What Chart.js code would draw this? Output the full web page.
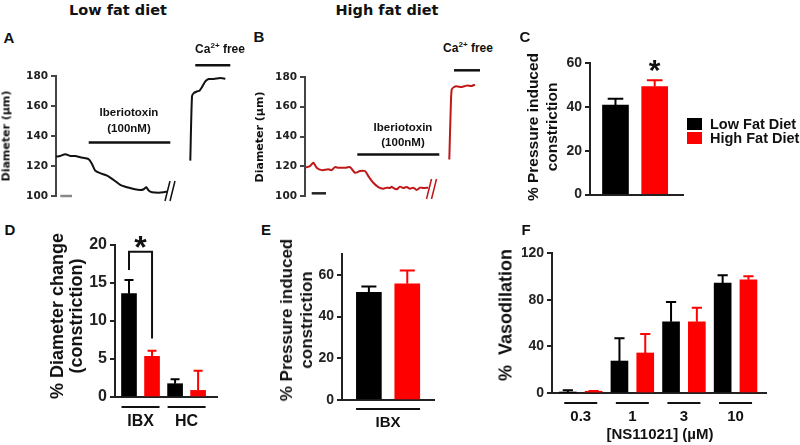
<!DOCTYPE html>
<html>
<head>
<meta charset="utf-8">
<script src="https://cdn.jsdelivr.net/npm/chart.js@4.4.1/dist/chart.umd.min.js"></script>
<style>
  body { margin: 0; background: #fff; }
  #fig { position: relative; width: 800px; height: 445px; overflow: hidden; font-family: "Liberation Sans", Arial, sans-serif; font-weight: bold; color: #111; }
  #fig canvas { position: absolute; }
  .t { position: absolute; white-space: nowrap; text-align: center; transform: translate(-50%, -50%); }
  .r { transform: translate(-50%, -50%) rotate(-90deg); }
  .dv { font-family: "DejaVu Sans", sans-serif; }
  .box { position: absolute; width: 15px; height: 12px; }
  .leg { position: absolute; white-space: nowrap; font-size: 14.5px; transform: translateY(-50%); }
</style>
</head>
<body>
<div id="fig">
  <canvas id="panelA"></canvas>
  <canvas id="panelB"></canvas>
  <canvas id="panelC"></canvas>
  <canvas id="panelD"></canvas>
  <canvas id="panelE"></canvas>
  <canvas id="panelF"></canvas>

  <div class="t dv" style="left:118px;top:10px;font-size:14.5px">Low fat diet</div>
  <div class="t dv" style="left:387px;top:10px;font-size:14.5px">High fat diet</div>

  <div class="t" style="left:9px;top:37px;font-size:15px">A</div>
  <div class="t" style="left:259px;top:36px;font-size:15px">B</div>
  <div class="t" style="left:525px;top:36px;font-size:15px">C</div>
  <div class="t" style="left:10px;top:229px;font-size:15px">D</div>
  <div class="t" style="left:266px;top:229px;font-size:15px">E</div>
  <div class="t" style="left:526px;top:229px;font-size:15px">F</div>

  <div class="t r dv" style="left:6px;top:136px;font-size:11px">Diameter (µm)</div>
  <div class="t r dv" style="left:258.5px;top:137px;font-size:11px">Diameter (µm)</div>
  <div class="t" style="left:129px;top:112px;font-size:11.5px">Iberiotoxin</div>
  <div class="t" style="left:129px;top:128px;font-size:11.5px">(100nM)</div>
  <div class="t" style="left:403px;top:127px;font-size:11.5px">Iberiotoxin</div>
  <div class="t" style="left:403px;top:142px;font-size:11.5px">(100nM)</div>
  <div class="t" style="left:220px;top:48px;font-size:12px">Ca<sup style="font-size:8px">2+</sup> free</div>
  <div class="t" style="left:468px;top:47px;font-size:12px">Ca<sup style="font-size:8px">2+</sup> free</div>

  <div class="t r" style="left:542px;top:127px;font-size:15.5px;line-height:19px">% Pressure induced<br>constriction</div>
  <div class="box" style="left:687px;top:118px;background:#000"></div>
  <div class="box" style="left:687px;top:132px;background:#ff0000"></div>
  <div class="leg" id="leg0" style="left:710px;top:124px"></div>
  <div class="leg" id="leg1" style="left:710px;top:138px"></div>

  <div class="t r" style="left:67px;top:316px;font-size:18px;line-height:19px">% Diameter change<br>(constriction)</div>
  <div class="t r" style="left:297px;top:320px;font-size:17px;line-height:20px">% Pressure induced<br>constriction</div>
  <div class="t r" style="left:506px;top:315px;font-size:18px">%&nbsp;&nbsp;Vasodilation</div>
  <div class="t" style="left:660px;top:433px;font-size:15px">[NS11021] (µM)</div>
</div>

<script>
// ---- data ----
const seriesNames = ['Low Fat Diet', 'High Fat Diet'];
const seriesColors = ['#000000', '#ff0000'];

// A / B: diameter traces (time in arbitrary units, diameter in µm)
const traceTicks = [100, 120, 140, 160, 180];
const lfdTrace1Time = [0, 4.3, 9.3, 14.3, 19.3, 24.3, 29.3, 32.7, 36, 39.3, 44.3, 51, 57.7, 64.3, 71, 77.7, 84.3, 87.7, 90.3, 92.7, 96, 102.7, 107.7, 111];
const lfdTrace1Diam = [126.3, 126.7, 127.9, 126.7, 126.7, 125.8, 125.2, 124.5, 121.4, 116.9, 115.2, 113.6, 110.7, 107.4, 105.8, 104.7, 104.0, 104.5, 105.8, 103.6, 102.5, 102.2, 102.5, 102.9];
const lfdTrace2Time = [134.3, 136, 137.7, 141, 143.7, 146, 149.3, 152.7, 157.7, 164.3, 169.3];
const lfdTrace2Diam = [123.6, 166.4, 168.6, 169.7, 170.4, 172.6, 176.4, 178.0, 178.0, 178.7, 178.2];
const hfdTrace1Time = [0, 5, 8.3, 11.7, 16.7, 23.3, 26.7, 30, 33.3, 40, 45, 50, 55, 60, 63.3, 68.3, 73.3, 78.3, 81.7, 85, 86.7, 88.3, 91.7, 95, 98.3, 101.7, 105, 108.3, 111.7, 115, 118.3, 123.3];
const hfdTrace1Diam = [119.0, 120.1, 122.3, 119.0, 117.4, 117.9, 117.4, 119.4, 119.0, 119.0, 119.4, 115.6, 116.8, 116.8, 113.4, 108.9, 106.0, 104.9, 105.6, 105.4, 106.3, 105.4, 104.5, 106.3, 105.4, 106.0, 104.9, 105.6, 104.0, 105.6, 105.4, 105.6];
const hfdTrace2Time = [144.3, 145.7, 146.7, 149, 151.7, 156.7, 161.7, 166.7, 170];
const hfdTrace2Diam = [124.6, 158.0, 171.5, 173.3, 173.7, 173.3, 174.2, 174.0, 174.9];
// application periods: [from, to] in trace time, drawn at a diameter level
const lfdScaleBar = {from: 4.3, to: 16, at: 100};
const lfdIbtxBar = {from: 32.7, to: 114.3, at: 135.7};
const lfdCaFreeBar = {from: 139.3, to: 174.3, at: 187.1};
const hfdScaleBar = {from: 6.7, to: 21, at: 101.8};
const hfdIbtxBar = {from: 52.3, to: 134.3, at: 127.9};
const hfdCaFreeBar = {from: 149, to: 175, at: 184.5};

// C: pressure induced constriction
const constrictionTicks = [0, 20, 40, 60];
const constrictionMean = [[40.8], [49.3]];
const constrictionSem = [[2.9], [2.8]];

// D: % diameter change
const diamGroups = ['IBX', 'HC'];
const diamTicks = [0, 5, 10, 15, 20];
const diamMean = [[13.6, 1.75], [5.35, 0.87]];
const diamSem = [[1.8, 0.6], [0.75, 2.6]];

// E: pressure induced constriction with IBX
const ibxGroups = ['IBX'];
const ibxTicks = [0, 20, 40, 60];
const ibxMean = [[51.6], [55.7]];
const ibxSem = [[2.8], [6.4]];

// F: vasodilation to NS11021
const nsDoses = ['0.3', '1', '3', '10'];
const nsTicks = [0, 40, 80, 120];
const nsMean = [[0.5, 27.4, 61.1, 94.3], [1.5, 34.3, 61.1, 97.1]];
const nsSem = [[1.8, 19.5, 16.9, 6.6], [0.3, 16.3, 12.0, 2.9]];

// ---- plugins ----
Chart.defaults.font.family = '"Liberation Sans", Arial, sans-serif';
Chart.defaults.font.weight = 'bold';
Chart.defaults.color = '#222';

const errorBars = {
  id: 'errorBars',
  afterDatasetsDraw(chart) {
    const {ctx, scales: {y}} = chart;
    chart.data.datasets.forEach((ds, i) => {
      if (!ds.errors) return;
      chart.getDatasetMeta(i).data.forEach((bar, j) => {
        const top = y.getPixelForValue(ds.data[j].y + ds.errors[j]);
        const half = bar.width * 0.3;
        ctx.save();
        ctx.strokeStyle = ds.backgroundColor;
        ctx.lineWidth = 2;
        ctx.beginPath();
        ctx.moveTo(bar.x, bar.y);
        ctx.lineTo(bar.x, top);
        ctx.moveTo(bar.x - half, top);
        ctx.lineTo(bar.x + half, top);
        ctx.stroke();
        ctx.restore();
      });
    });
  }
};

const groupAxis = {
  id: 'groupAxis',
  afterDraw(chart, args, opts) {
    if (!opts.labels) return;
    const {ctx, chartArea, scales: {x}} = chart;
    ctx.save();
    ctx.strokeStyle = '#111';
    ctx.fillStyle = '#111';
    ctx.lineWidth = 2;
    ctx.font = opts.font;
    ctx.textAlign = 'center';
    ctx.textBaseline = 'middle';
    opts.labels.forEach((lab, g) => {
      const cx = x.getPixelForValue(g);
      const ly = chartArea.bottom + opts.lineGap;
      ctx.beginPath();
      ctx.moveTo(cx - opts.half, ly);
      ctx.lineTo(cx + opts.half, ly);
      ctx.stroke();
      ctx.fillText(lab, cx, chartArea.bottom + opts.textGap);
    });
    ctx.restore();
  }
};

const breakMark = {
  id: 'breakMark',
  afterDatasetsDraw(chart, args, opts) {
    if (opts.x === undefined) return;
    const {ctx, scales: {x, y}} = chart;
    const px = x.getPixelForValue(opts.x), py = y.getPixelForValue(opts.y);
    ctx.save();
    ctx.strokeStyle = opts.color;
    ctx.lineWidth = 1.5;
    ctx.beginPath();
    [0, 5].forEach(k => {
      ctx.moveTo(px - 6 + k, py + 10);
      ctx.lineTo(px - 1 + k, py - 10);
    });
    ctx.stroke();
    ctx.restore();
  }
};

Chart.register(errorBars, groupAxis, breakMark);

function drawStar(ctx, x, y, size) {
  ctx.save();
  ctx.font = 'bold ' + size + 'px "Liberation Sans", Arial, sans-serif';
  ctx.fillStyle = '#111';
  ctx.textAlign = 'center';
  ctx.textBaseline = 'alphabetic';
  const m = ctx.measureText('*');
  ctx.fillText('*', x, y + (m.actualBoundingBoxAscent - m.actualBoundingBoxDescent) / 2);
  ctx.restore();
}

// ---- helpers ----
function build(id, area, pad, config) {
  const cv = document.getElementById(id);
  cv.width = Math.round(area.r - area.l + pad.l + pad.r);
  cv.height = Math.round(area.b - area.t + pad.t + pad.b);
  cv.style.left = (area.l - pad.l) + 'px';
  cv.style.top = (area.t - pad.t) + 'px';
  const o = config.options;
  o.responsive = false;
  o.animation = false;
  o.events = [];
  o.layout = {padding: {left: pad.l - 30, top: pad.t, right: pad.r, bottom: pad.b}};
  o.plugins = Object.assign({legend: {display: false}, tooltip: {enabled: false}}, o.plugins || {});
  return new Chart(cv, config);
}

function yAxis(min, max, ticks, font, color) {
  return {
    min, max,
    afterBuildTicks: s => { s.ticks = ticks.map(v => ({value: v})); },
    afterFit: s => { s.width = 30; },
    ticks: {font, color: '#222', padding: 3},
    grid: {drawOnChartArea: false, tickLength: 5, color, lineWidth: 2},
    border: {color, width: 2}
  };
}

function xAxis(min, max) {
  return {
    type: 'linear', min, max, offset: false,
    afterFit: s => { s.height = 0; },
    ticks: {display: false},
    grid: {display: false, offset: false, drawTicks: false},
    border: {color: '#222', width: 2}
  };
}

function traceSet(times, diams, color) {
  return {
    data: times.map((t, i) => ({x: t, y: diams[i]})),
    borderColor: color, borderWidth: 2, pointRadius: 0, tension: 0.25, fill: false
  };
}

function markSet(bar, color) {
  return {
    data: [{x: bar.from, y: bar.at}, {x: bar.to, y: bar.at}],
    borderColor: color, borderWidth: 2.5, pointRadius: 0, clip: false
  };
}

function barSets(means, sems, thickness) {
  return means.map((m, s) => ({
    type: 'bar',
    label: seriesNames[s],
    data: m.map((v, g) => ({x: g + (s ? 0.25 : -0.25), y: v})),
    errors: sems[s],
    backgroundColor: seriesColors[s],
    borderWidth: 0,
    grouped: false,
    barThickness: thickness
  }));
}

const traceFont = {family: 'DejaVu Sans', size: 10.5, weight: 'bold'};
const barFont = {size: 14, weight: 'bold'};

// ---- A ----
build('panelA', {l: 56, r: 236, t: 76.3, b: 196}, {l: 45, t: 15, r: 8, b: 14}, {
  type: 'line',
  data: {datasets: [
    traceSet(lfdTrace1Time, lfdTrace1Diam, '#111'),
    traceSet(lfdTrace2Time, lfdTrace2Diam, '#111'),
    markSet(lfdScaleBar, '#888'),
    markSet(lfdIbtxBar, '#111'),
    markSet(lfdCaFreeBar, '#111')
  ]},
  options: {
    scales: {x: {type: 'linear', min: 0, max: 180, display: false}, y: yAxis(100, 180, traceTicks, traceFont, '#444')},
    plugins: {breakMark: {x: 115, y: 103.3, color: '#111'}}
  }
});

// ---- B ----
build('panelB', {l: 305, r: 485, t: 77.3, b: 196.7}, {l: 45, t: 15, r: 8, b: 14}, {
  type: 'line',
  data: {datasets: [
    traceSet(hfdTrace1Time, hfdTrace1Diam, '#c01818'),
    traceSet(hfdTrace2Time, hfdTrace2Diam, '#c01818'),
    markSet(hfdScaleBar, '#222'),
    markSet(hfdIbtxBar, '#111'),
    markSet(hfdCaFreeBar, '#111')
  ]},
  options: {
    scales: {x: {type: 'linear', min: 0, max: 180, display: false}, y: yAxis(100, 180, traceTicks, traceFont, '#444')},
    plugins: {breakMark: {x: 127.5, y: 104.7, color: '#c01818'}}
  }
});

// ---- C ----
build('panelC', {l: 590, r: 683, t: 63.3, b: 196}, {l: 60, t: 20, r: 10, b: 10}, {
  type: 'bar',
  data: {datasets: barSets(constrictionMean, constrictionSem, 26)},
  options: {scales: {x: xAxis(-0.575, 0.611), y: yAxis(0, 60, constrictionTicks, barFont, '#222')}},
  plugins: [{
    id: 'starC',
    afterDraw(chart) {
      drawStar(chart.ctx, chart.scales.x.getPixelForValue(0.25), chart.scales.y.getPixelForValue(58.5), 30);
    }
  }]
});
document.getElementById('leg0').textContent = seriesNames[0];
document.getElementById('leg1').textContent = seriesNames[1];

// ---- D ----
build('panelD', {l: 115, r: 216.7, t: 245, b: 397.3}, {l: 60, t: 20, r: 10, b: 40}, {
  type: 'bar',
  data: {datasets: barSets(diamMean, diamSem, 15)},
  options: {
    scales: {x: xAxis(-0.554, 1.66), y: yAxis(0, 20, diamTicks, {size: 16, weight: 'bold'}, '#222')},
    plugins: {groupAxis: {labels: diamGroups, half: 19, lineGap: 10, textGap: 24.5, font: 'bold 16px "Liberation Sans", Arial, sans-serif'}}
  },
  plugins: [{
    id: 'bracketD',
    afterDraw(chart) {
      const {ctx, scales: {x, y}} = chart;
      const x0 = x.getPixelForValue(-0.25), x1 = x.getPixelForValue(0.25);
      ctx.save();
      ctx.strokeStyle = '#111';
      ctx.lineWidth = 2;
      ctx.beginPath();
      ctx.moveTo(x0, y.getPixelForValue(16.7));
      ctx.lineTo(x0, y.getPixelForValue(19.1));
      ctx.lineTo(x1, y.getPixelForValue(19.1));
      ctx.lineTo(x1, y.getPixelForValue(7.7));
      ctx.stroke();
      ctx.restore();
      drawStar(ctx, (x0 + x1) / 2, y.getPixelForValue(20.4), 32);
    }
  }]
});

// ---- E ----
build('panelE', {l: 341.7, r: 433.3, t: 253.5, b: 399.3}, {l: 60, t: 15, r: 10, b: 40}, {
  type: 'bar',
  data: {datasets: barSets(ibxMean, ibxSem, 25)},
  options: {
    scales: {x: xAxis(-0.6, 0.598), y: yAxis(0, 70, ibxTicks, barFont, '#222')},
    plugins: {groupAxis: {labels: ibxGroups, half: 32, lineGap: 9, textGap: 22.5, font: 'bold 15px "Liberation Sans", Arial, sans-serif'}}
  }
});

// ---- F ----
build('panelF', {l: 552.3, r: 766, t: 252.7, b: 392.7}, {l: 60, t: 15, r: 10, b: 40}, {
  type: 'bar',
  data: {datasets: barSets(nsMean, nsSem, 17)},
  options: {
    scales: {x: xAxis(-0.557, 3.59), y: yAxis(0, 120, nsTicks, barFont, '#222')},
    plugins: {groupAxis: {labels: nsDoses, half: 16.5, lineGap: 10, textGap: 24, font: 'bold 15px "Liberation Sans", Arial, sans-serif'}}
  }
});
</script>
</body>
</html>
